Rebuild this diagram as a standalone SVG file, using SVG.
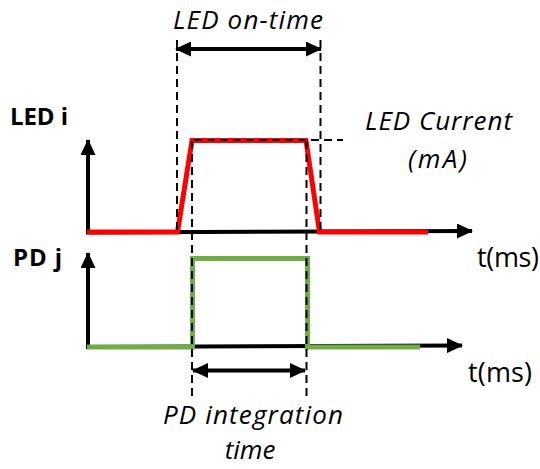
<svg xmlns="http://www.w3.org/2000/svg" width="540" height="469" viewBox="0 0 540 469">
<defs>
<style>
.lbl{font-family:"Open Sans","Liberation Sans",sans-serif;fill:#000;}
.it{font-style:italic;font-size:26px;}
.bd{font-weight:bold;font-size:24px;}
.rg{font-size:27px;}
.axis{stroke:#000;stroke-width:4;fill:none;}
.dash{stroke:#000;stroke-width:2;stroke-dasharray:8 5;fill:none;}
.red{stroke:#ff0000;stroke-width:5;fill:none;stroke-linejoin:miter;}
.green{stroke:#70ad47;stroke-width:5;fill:none;stroke-linejoin:miter;}
</style>
<marker id="ah" viewBox="0 0 16 15" refX="15" refY="7.5" markerWidth="16" markerHeight="15" markerUnits="userSpaceOnUse" orient="auto-start-reverse">
<path d="M0,0 L16,7.5 L0,15 z" fill="#000"/>
</marker>
</defs>
<rect width="540" height="469" fill="#fff"/>
<g id="connectors">
<line class="axis" x1="88" y1="232" x2="88" y2="140" marker-end="url(#ah)"/>
<line class="axis" x1="86" y1="232.5" x2="472" y2="231" marker-end="url(#ah)"/>
<line class="axis" x1="88" y1="347" x2="88" y2="253" marker-end="url(#ah)"/>
<line class="axis" x1="86" y1="347" x2="462" y2="345.5" marker-end="url(#ah)"/>
<line class="axis" x1="176" y1="49" x2="321" y2="49" marker-start="url(#ah)" marker-end="url(#ah)"/>
<line class="axis" x1="193" y1="370.5" x2="305" y2="370.5" marker-start="url(#ah)" marker-end="url(#ah)"/>
</g>
<g id="led-signal">
<polyline class="red" points="87,232 177.5,232 192,140.5 306,140.5 319.5,232 428,232"/>
</g>
<g id="pd-signal">
<polyline class="green" points="87,347 192.5,347 192.5,258.5 307.5,258.5 307.5,347 420,347"/>
</g>
<g id="guides">
<line class="dash" x1="177" y1="40" x2="177" y2="232"/>
<line class="dash" x1="320.5" y1="40" x2="320.5" y2="232"/>
<line class="dash" x1="192" y1="141" x2="192" y2="397"/>
<line class="dash" x1="306.5" y1="141" x2="306.5" y2="397"/>
<line class="dash" x1="194" y1="140" x2="343" y2="140"/>
</g>
<g id="labels">
<text class="lbl bd" x="10" y="125" textLength="58">LED i</text>
<text class="lbl bd" x="13" y="266" textLength="49">PD j</text>
<text class="lbl it" x="173" y="29" textLength="150">LED on-time</text>
<text class="lbl it" x="365" y="130" textLength="147">LED Current</text>
<text class="lbl it" x="408" y="168" textLength="59">(mA)</text>
<text class="lbl rg" x="477" y="267" textLength="62">t(ms)</text>
<text class="lbl rg" x="468" y="382" textLength="64">t(ms)</text>
<text class="lbl it" x="163" y="424" textLength="180">PD integration</text>
<text class="lbl it" x="250" y="459" text-anchor="middle">time</text>
</g>
</svg>
